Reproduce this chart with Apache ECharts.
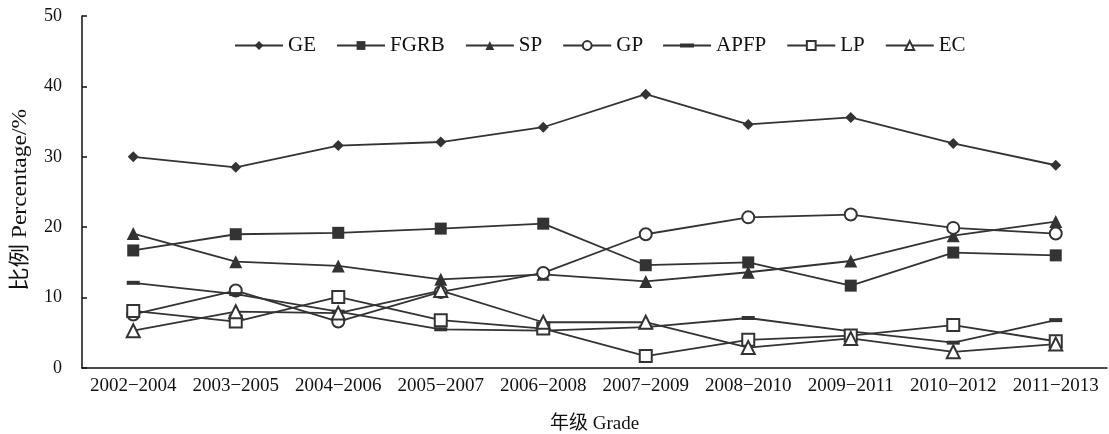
<!DOCTYPE html>
<html><head><meta charset="utf-8">
<script src="https://cdn.jsdelivr.net/npm/echarts@6/dist/echarts.min.js"></script>
<style>html,body{margin:0;padding:0;background:#fff}#c{width:1109px;height:434px}</style>
</head><body><div id="c"></div>
<script>
const categories = ['2002−2004','2003−2005','2004−2006','2005−2007','2006−2008','2007−2009','2008−2010','2009−2011','2010−2012','2011−2013'];
const GE   = [30.0, 28.5, 31.6, 32.1, 34.2, 38.9, 34.6, 35.6, 31.9, 28.8];
const FGRB = [16.7, 19.0, 19.2, 19.8, 20.5, 14.6, 15.0, 11.7, 16.4, 16.0];
const SP   = [19.1, 15.1, 14.5, 12.6, 13.3, 12.3, 13.6, 15.2, 18.8, 20.8];
const GP   = [7.6, 11.0, 6.6, 10.8, 13.5, 19.0, 21.4, 21.8, 19.9, 19.1];
const APFP = [12.1, 10.5, 8.0, 5.5, 5.3, 5.8, 7.1, 5.2, 3.6, 6.8];
const LP   = [8.1, 6.6, 10.1, 6.8, 5.6, 1.7, 4.0, 4.6, 6.1, 3.8];
const EC   = [5.3, 8.0, 7.8, 11.0, 6.5, 6.5, 2.9, 4.2, 2.3, 3.4];
const yTicks = [0, 10, 20, 30, 40, 50];
const yTitle = '比例 Percentage/%';
const xTitle = '年级 Grade';

const FONT = '"Liberation Serif", "Noto Sans CJK SC", serif';
const C = '#333';
function mk(name, data, symbol, size, filled) {
  return {
    name, type: 'line', data, symbol, symbolSize: size,
    lineStyle: { color: C, width: 1.8 },
    itemStyle: filled ? { color: C } : { color: C, borderColor: C, borderWidth: 1.6 },
    emphasis: { disabled: true },
    animation: false
  };
}
const apfpIcon = 'path://M0,4.6 H48 V6.4 H0 Z M17,3.5 H31 V7.5 H17 Z M0,0 H0.01 V0.01 H0 Z M47.99,10.99 H48 V11 H47.99 Z';
const chart = echarts.init(document.getElementById('c'));
chart.setOption({
  backgroundColor: '#fff',
  textStyle: { fontFamily: FONT },
  legend: {
    left: 229, top: 30, itemWidth: 48, itemHeight: 11, itemGap: 20,
    textStyle: { fontFamily: FONT, fontSize: 21, color: '#111' },
    data: ['GE','FGRB','SP','GP',{ name: 'APFP', icon: apfpIcon },'LP','EC']
  },
  grid: { left: 82, right: 2, top: 16, bottom: 66, containLabel: false, outerBoundsMode: 'none' },
  graphic: [{
    type: 'text', x: 20, y: 200, rotation: Math.PI / 2, scaleX: 1.12, scaleY: 1,
    style: { text: yTitle, font: '21px ' + FONT, fill: '#111', align: 'center', verticalAlign: 'middle' }
  }],
  xAxis: {
    type: 'category', data: categories, boundaryGap: true,
    name: xTitle, nameLocation: 'middle', nameGap: 47,
    nameTextStyle: { fontFamily: FONT, fontSize: 19, color: '#111' },
    axisLine: { lineStyle: { color: '#111', width: 1.5 } },
    axisTick: { inside: true, length: 5, lineStyle: { color: '#111', width: 1.5 } },
    axisLabel: { fontFamily: FONT, fontSize: 19, color: '#111', margin: 9, interval: 0 }
  },
  yAxis: {
    type: 'value', min: yTicks[0], max: yTicks[yTicks.length-1], interval: 10,
    axisLine: { show: true, lineStyle: { color: '#111', width: 1.5 } },
    axisTick: { show: true, inside: true, length: 5, lineStyle: { color: '#111', width: 1.5 } },
    axisLabel: { fontFamily: FONT, fontSize: 18, color: '#111', margin: 20 },
    splitLine: { show: false }
  },
  series: [
    mk('GE', GE, 'diamond', 11, true),
    mk('FGRB', FGRB, 'rect', 12, true),
    mk('SP', SP, 'triangle', 13, true),
    mk('GP', GP, 'emptyCircle', 12, false),
    mk('APFP', APFP, 'rect', [13, 4], true),
    mk('LP', LP, 'emptyRect', 12, false),
    mk('EC', EC, 'emptyTriangle', 13, false)
  ]
});
</script></body></html>
